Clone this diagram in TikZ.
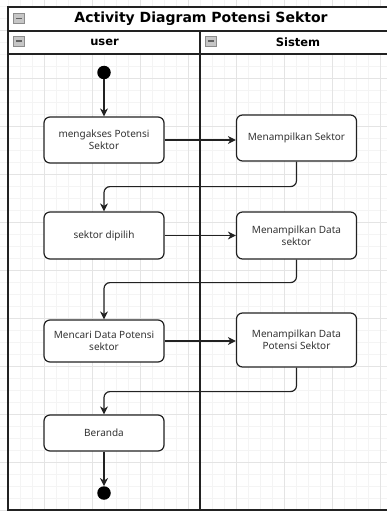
\documentclass[tikz,border=0pt]{standalone}
\usepackage{fontspec}
\setmainfont{Noto Sans}
\newfontfamily\headfont{DejaVu Sans}
\usepackage{tikz}
\usetikzlibrary{arrows.meta,positioning}
\definecolor{ink}{HTML}{222222}
\definecolor{txt}{HTML}{333333}
\definecolor{minorgrid}{HTML}{F4F4F4}
\definecolor{majorgrid}{HTML}{E4E4E4}
\definecolor{iconfill}{HTML}{C6C6C6}
\definecolor{iconline}{HTML}{8C8C8C}
\tikzset{
  lane/.style={draw=ink, line width=1.5pt},
  act/.style={draw=ink, fill=white, line width=1.2pt, rounded corners=6pt, minimum width=120pt, align=center, text=txt, font=\fontsize{10}{12}\selectfont},
  flow/.style={draw=ink, line width=1.2pt, rounded corners=6pt, -{Stealth[length=8pt,width=8pt,inset=2.5pt]}},
  dot/.style={circle, fill=black, inner sep=0pt, minimum size=13.5pt},
  hdr/.style={font=\headfont\bfseries\fontsize{14}{16}\selectfont},
  lanehdr/.style={font=\headfont\bfseries\fontsize{11.5}{13}\selectfont},
  icon/.style={draw=iconline, fill=iconfill, inner sep=0pt, minimum width=11pt, minimum height=10pt},
}

\begin{document}
\begin{tikzpicture}[x=1pt, y=-1pt]
  \useasboundingbox (0,0) rectangle (387,511);

  % background grid
  \foreach \x in {8,20,...,392} \draw[minorgrid, line width=0.6pt] (\x,0) -- (\x,511);
  \foreach \y in {6,18,...,510} \draw[minorgrid, line width=0.6pt] (0,\y) -- (387,\y);
  \foreach \x in {44,92,...,392} \draw[majorgrid, line width=0.8pt] (\x,0) -- (\x,511);
  \foreach \y in {30,78,...,510} \draw[majorgrid, line width=0.8pt] (0,\y) -- (387,\y);

  % pool and lanes
  \fill[white] (8,7) rectangle (392,54);
  \draw[lane] (8,7) rectangle (392,510);
  \draw[lane] (8,31) -- (392,31);
  \draw[lane] (8,54) -- (392,54);
  \draw[lane] (200,31) -- (200,510);

  \node[hdr] (title) at (201,19) {Activity Diagram Potensi Sektor};
  \node[lanehdr] (user) at (104.5,42.5) {user};
  \node[lanehdr] (sistem) at (298,42.5) {Sistem};

  \foreach \n/\x/\y in {ic0/19/18.5, ic1/19/41, ic2/211/41} {
    \node[icon] (\n) at (\x,\y) {};
    \draw[iconline!70!black, line width=1.4pt] ([xshift=2.5pt]\n.west) -- ([xshift=-2.5pt]\n.east);
  }

  \node[dot] (start) at (104,72.5) {};
  \node[act, minimum height=46pt] (akses) at (104,140) {mengakses Potensi\\Sektor};
  \node[act, minimum height=46pt] (tampil) at (296.5,138) {Menampilkan Sektor};
  \node[act, minimum height=47pt] (pilih) at (104,235.5) {sektor dipilih};
  \node[act, minimum height=47pt] (data) at (296.5,235.5) {Menampilkan Data\\sektor};
  \node[act, minimum height=42pt] (cari) at (104,341) {Mencari Data Potensi\\sektor};
  \node[act, minimum height=54pt] (potensi) at (296.5,340) {Menampilkan Data\\Potensi Sektor};
  \node[act, minimum height=36pt] (beranda) at (104,433) {Beranda};
  \node[dot] (end) at (104,493) {};

  \draw[flow] (start) -- (akses);
  \draw[flow] (akses.east) -- (akses.east -| tampil.west);
  \draw[flow] (tampil.south) -- ++(0,25) -| (pilih.north);
  \draw[flow] (pilih) -- (data);
  \draw[flow] (data.south) -- ++(0,23) -| (cari.north);
  \draw[flow] (cari.east) -- (cari.east -| potensi.west);
  \draw[flow] (potensi.south) -- ++(0,24) -| (beranda.north);
  \draw[flow] (beranda) -- (end);
\end{tikzpicture}
\end{document}
